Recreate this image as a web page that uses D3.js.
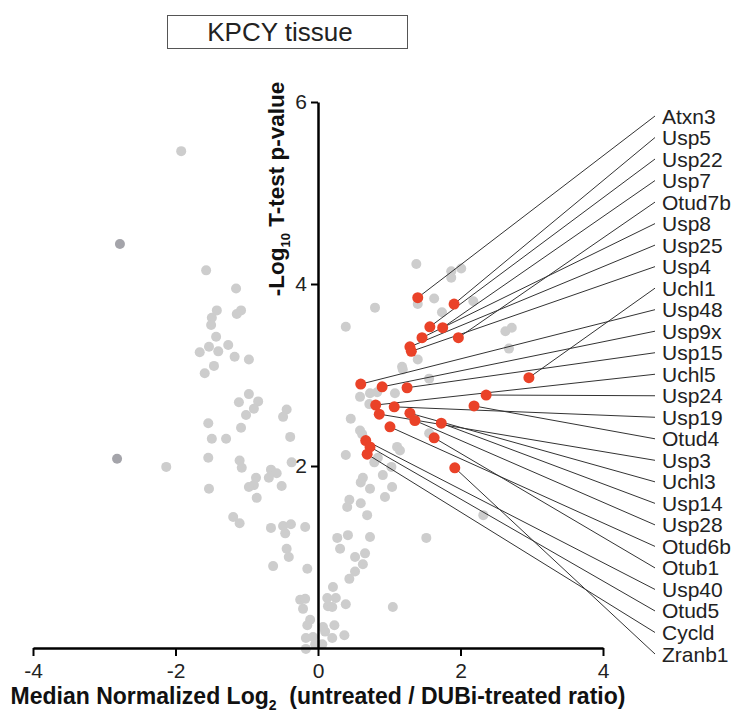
<!DOCTYPE html>
<html>
<head>
<meta charset="utf-8">
<script src="https://cdn.jsdelivr.net/npm/d3@7"></script>
<style>
  body { margin: 0; background: #fff; }
  text { font-family: "Liberation Sans", Arial, sans-serif; }
</style>
</head>
<body>
<script>
// volcano plot, KPCY tissue

// grey (non-DUB) proteins: [log2 ratio, -log10 p]
var greyPoints = [
  [-1.92,5.46],[-1.57,4.15],[-1.15,3.95],[-1.42,3.71],[-1.08,3.71],[-1.14,3.67],[-1.49,3.63],[-1.50,3.55],
  [-1.43,3.42],[-1.66,3.25],[-1.53,3.31],[-1.40,3.26],[-1.26,3.33],[-1.17,3.20],[-0.97,3.17],[-1.46,3.10],
  [-1.59,3.02],[-0.97,2.79],[-0.84,2.71],[-1.11,2.70],[-0.90,2.63],[-1.01,2.56],[-0.44,2.62],[-0.49,2.54],
  [-1.08,2.42],[-1.54,2.47],[-1.49,2.30],[-1.29,2.30],[-0.39,2.32],[-1.54,2.09],[-2.13,1.99],[-1.10,2.06],
  [-1.07,1.98],[-0.37,2.04],[-0.66,1.96],[-0.58,1.92],[-0.69,1.87],[-0.87,1.87],[-0.90,1.79],[-0.97,1.77],
  [-0.51,1.78],[-0.86,1.65],[-1.53,1.75],[-1.19,1.44],[-1.10,1.37],[-0.66,1.32],[-0.49,1.34],[-0.38,1.36],
  [-0.18,1.33],[-0.46,1.26],[-0.44,1.09],[-0.41,1.00],[-0.63,0.90],[-0.15,0.87],[-0.25,0.53],[-0.18,0.54],
  [-0.21,0.43],[-0.11,0.31],[-0.15,0.25],[-0.17,0.11],[-0.07,0.12],[-0.04,0.04],[-0.17,-0.01],
  [0.06,0.04],[0.07,0.23],[0.10,0.18],[0.23,0.25],[0.20,0.11],[0.37,0.14],[0.13,0.55],[0.25,0.55],
  [0.14,0.46],[0.20,0.45],[0.39,0.48],[0.21,0.67],[0.44,0.76],[0.52,0.84],[0.63,0.92],[0.52,1.00],
  [0.66,1.04],[0.27,1.21],[0.42,1.24],[0.31,1.09],[0.73,1.22],[1.52,1.21],[1.05,0.45],[0.44,1.63],
  [0.41,1.55],[0.60,1.59],[0.69,1.46],[0.60,1.82],[0.73,1.75],[1.04,1.77],[0.94,1.66],[0.63,1.87],
  [0.91,1.90],[1.03,1.99],[0.79,2.04],[0.84,2.09],[0.39,2.12],[1.11,2.21],[1.15,2.17],[0.59,2.39],
  [0.62,2.35],[0.46,2.52],[1.56,2.36],[2.32,1.46],[0.59,2.76],[0.73,2.80],[0.83,2.81],[1.08,2.80],
  [0.72,2.68],[1.56,2.96],[1.40,3.17],[1.18,3.09],[1.19,3.06],[2.68,3.29],[2.63,3.48],[2.72,3.52],
  [0.80,3.74],[0.39,3.53],[1.40,3.78],[1.63,3.84],[1.74,3.69],[2.18,3.81],[1.38,4.22],[1.87,4.14],
  [2.01,4.17],[1.87,4.07]
];

// two darker grey proteins on the far left
var darkPoints = [[-2.78,4.44],[-2.82,2.08]];

// DUBs, highlighted in red, listed in label order
var dubNames = ["Atxn3","Usp5","Usp22","Usp7","Otud7b","Usp8","Usp25","Usp4","Uchl1","Usp48","Usp9x",
  "Usp15","Uchl5","Usp24","Usp19","Otud4","Usp3","Uchl3","Usp14","Usp28","Otud6b","Otub1","Usp40",
  "Otud5","Cycld","Zranb1"];
var dubX = [1.40,1.91,1.57,1.75,1.97,1.46,1.29,1.31,2.96,0.60,0.90,
  1.25,0.81,2.36,1.07,2.19,0.86,1.29,1.73,1.36,1.01,1.63,0.67,
  0.73,0.69,1.92];
var dubY = [3.85,3.78,3.53,3.52,3.41,3.41,3.31,3.26,2.97,2.90,2.87,
  2.86,2.67,2.78,2.65,2.66,2.57,2.58,2.47,2.50,2.43,2.31,2.28,
  2.21,2.13,1.98];

var xTicks = [-4,-2,0,2,4];
var yTicks = [2,4,6];

window.onload = function(){

    var w = 735, h = 715;

    var svg = d3.select("body").append("svg")
        .attr("width", w)
        .attr("height", h);

    var x = d3.scaleLinear().domain([-4, 4]).range([33, 603]);
    var y = d3.scaleLinear().domain([0, 6]).range([648, 102]);
    // gene label slots on the right
    var ly = d3.scalePoint().domain(dubNames).range([116, 654]);

    // title box
    svg.append("rect")
        .attr("x", 167.5).attr("y", 15.5)
        .attr("width", 240).attr("height", 33)
        .attr("fill", "none").attr("stroke", "#555").attr("stroke-width", 1);
    svg.append("text")
        .attr("x", 280).attr("y", 41)
        .attr("text-anchor", "middle")
        .attr("font-size", 26)
        .attr("fill", "#222")
        .text("KPCY tissue");

    // grey points
    svg.append("g").selectAll("circle")
        .data(greyPoints)
        .join("circle")
        .attr("cx", function(d){ return x(d[0]); })
        .attr("cy", function(d){ return y(d[1]); })
        .attr("r", 5)
        .attr("fill", "#cdcdcd");

    svg.append("g").selectAll("circle")
        .data(darkPoints)
        .join("circle")
        .attr("cx", function(d){ return x(d[0]); })
        .attr("cy", function(d){ return y(d[1]); })
        .attr("r", 5)
        .attr("fill", "#a4a4aa");

    // axes
    var xAxis = svg.append("g")
        .attr("transform", "translate(0," + y(0) + ")")
        .call(d3.axisBottom(x).tickValues(xTicks).tickSize(8).tickSizeOuter(0).tickPadding(7)
            .tickFormat(d3.format("d")));
    var yAxis = svg.append("g")
        .attr("transform", "translate(" + x(0) + ",0)")
        .call(d3.axisLeft(y).tickValues(yTicks).tickSize(7).tickSizeOuter(0).tickPadding(4)
            .tickFormat(d3.format("d")));

    [xAxis, yAxis].forEach(function(a){
        a.select(".domain").attr("stroke", "#000").attr("stroke-width", 2.5);
        a.selectAll(".tick line").attr("stroke", "#000").attr("stroke-width", 2);
        a.selectAll(".tick text")
            .attr("font-size", 21)
            .attr("fill", "#222")
            .style("font-family", "'Liberation Sans', Arial, sans-serif");
    });
    xAxis.selectAll(".tick text").text(function(d){ return d < 0 ? "-" + Math.abs(d) : d; });

    // leader lines
    var dubs = dubNames.map(function(n, i){ return {name: n, x: dubX[i], y: dubY[i]}; });

    svg.append("g").selectAll("line")
        .data(dubs)
        .join("line")
        .attr("x1", function(d){ return x(d.x); })
        .attr("y1", function(d){ return y(d.y); })
        .attr("x2", 655)
        .attr("y2", function(d){ return ly(d.name); })
        .attr("stroke", "#333")
        .attr("stroke-width", 1);

    // red DUB points
    svg.append("g").selectAll("circle")
        .data(dubs)
        .join("circle")
        .attr("cx", function(d){ return x(d.x); })
        .attr("cy", function(d){ return y(d.y); })
        .attr("r", 5.5)
        .attr("fill", "#ea4228");

    // gene labels
    svg.append("g").selectAll("text")
        .data(dubs)
        .join("text")
        .attr("x", 662)
        .attr("y", function(d){ return ly(d.name) + 7.5; })
        .attr("font-size", 21)
        .attr("fill", "#222")
        .text(function(d){ return d.name; });

    // x axis title
    var xt = svg.append("text")
        .attr("x", 318).attr("y", 704)
        .attr("text-anchor", "middle")
        .attr("font-size", 23)
        .attr("font-weight", "bold")
        .attr("fill", "#111")
        .style("white-space", "pre");
    xt.append("tspan").text("Median Normalized Log");
    xt.append("tspan").attr("font-size", 14).attr("dy", 6).text("2");
    xt.append("tspan").attr("dy", -6).text("  (untreated / DUBi-treated ratio)");

    // y axis title
    var yt = svg.append("text")
        .attr("transform", "translate(284,189) rotate(-90)")
        .attr("text-anchor", "middle")
        .attr("font-size", 22.5)
        .attr("font-weight", "bold")
        .attr("fill", "#111");
    yt.append("tspan").text("-Log");
    yt.append("tspan").attr("font-size", 13).attr("dy", 6).text("10");
    yt.append("tspan").attr("dy", -6).text(" T-test p-value");
};
</script>
</body>
</html>
